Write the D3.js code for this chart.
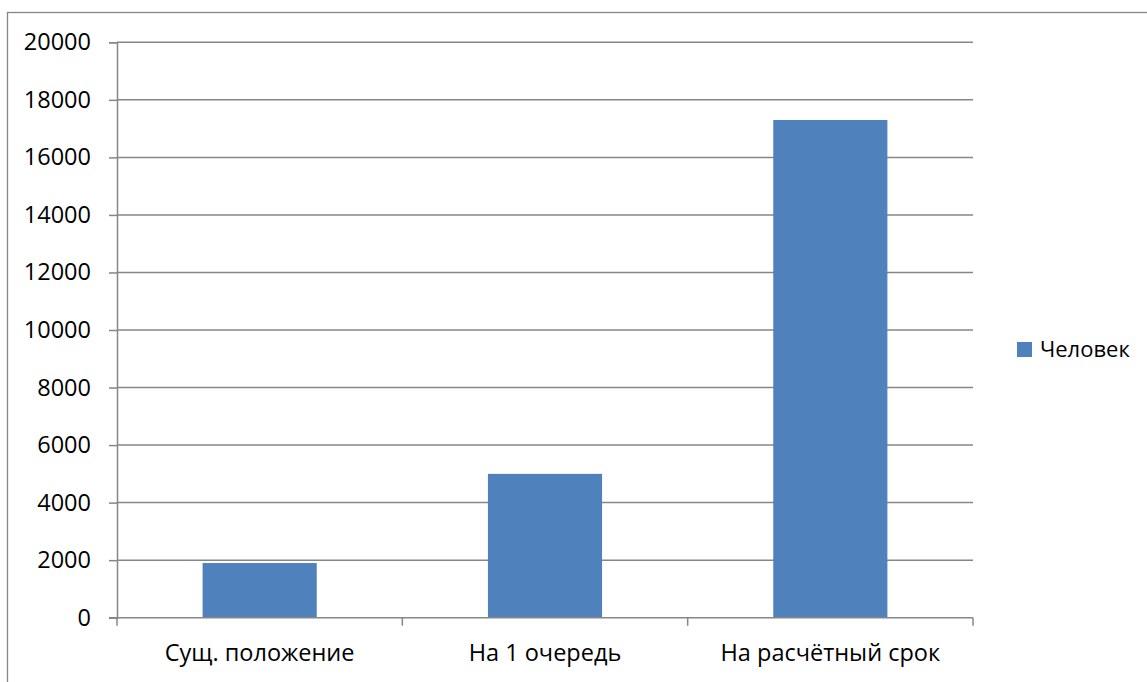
<!DOCTYPE html>
<html>
<head>
<meta charset="utf-8">
<script src="https://cdn.jsdelivr.net/npm/d3@7"></script>
<style>
  html, body { margin: 0; padding: 0; background: #fff; }
  svg { display: block; }
  text { font-family: "Open Sans", "Noto Sans", sans-serif; fill: #000; }
</style>
</head>
<body>
<svg id="chart" width="1147" height="682"></svg>
<script>
// Population figures, persons
const categories = ["Сущ. положение", "На 1 очередь", "На расчётный срок"];
const values = [1900, 5000, 17300];
const seriesName = "Человек";
const yTicks = [0, 2000, 4000, 6000, 8000, 10000, 12000, 14000, 16000, 18000, 20000];

const svg = d3.select("#chart");
const W = 1147, H = 682;
const plot = { left: 117, right: 973, top: 42.3, bottom: 617.7 };
const gridColor = "#868686";
const barColor = "#4F81BD";
const axisFont = 23.5;
const legendFont = 22;

// outer chart frame
svg.append("rect")
  .attr("x", 7.5).attr("y", 12.5)
  .attr("width", W + 10).attr("height", H + 10)
  .attr("fill", "none").attr("stroke", gridColor).attr("stroke-width", 1.3);

const x = d3.scaleBand()
  .domain(categories)
  .range([plot.left, plot.right])
  .paddingInner(0.6)
  .paddingOuter(0.3);

const xBound = d3.scaleLinear().domain([0, categories.length]).range([plot.left, plot.right]);

const y = d3.scaleLinear().domain([0, 20000]).range([plot.bottom, plot.top]);

// horizontal gridlines
svg.append("g")
  .selectAll("line")
  .data(yTicks.filter(d => d > 0))
  .join("line")
  .attr("x1", plot.left).attr("x2", plot.right)
  .attr("y1", d => y(d)).attr("y2", d => y(d))
  .attr("stroke", gridColor).attr("stroke-width", 1.5);

// y axis
const yAxis = svg.append("g")
  .attr("transform", `translate(${plot.left},0)`)
  .call(d3.axisLeft(y).tickValues(yTicks).tickSize(8).tickPadding(18).tickFormat(d3.format("d")));
yAxis.select(".domain").attr("stroke", gridColor).attr("stroke-width", 1.5);
yAxis.selectAll(".tick line").attr("stroke", gridColor).attr("stroke-width", 1.5);
yAxis.selectAll(".tick text")
  .attr("font-size", axisFont)
  .style("font-family", '"Open Sans", "Noto Sans", sans-serif')
  .attr("fill", "#000");

// bars
svg.append("g")
  .selectAll("rect")
  .data(values)
  .join("rect")
  .attr("x", (d, i) => x(categories[i]))
  .attr("width", x.bandwidth())
  .attr("y", d => y(d))
  .attr("height", d => y(0) - y(d))
  .attr("fill", barColor);

// x axis line and category boundary ticks
const xg = svg.append("g");
xg.append("line")
  .attr("x1", plot.left - 8).attr("x2", plot.right)
  .attr("y1", y(0)).attr("y2", y(0))
  .attr("stroke", gridColor).attr("stroke-width", 1.5);
xg.selectAll("line.bound")
  .data(d3.range(categories.length + 1))
  .join("line")
  .attr("class", "bound")
  .attr("x1", d => xBound(d)).attr("x2", d => xBound(d))
  .attr("y1", y(0)).attr("y2", y(0) + 8)
  .attr("stroke", gridColor).attr("stroke-width", 1.5);
xg.selectAll("text")
  .data(categories)
  .join("text")
  .attr("x", d => x(d) + x.bandwidth() / 2)
  .attr("y", 661)
  .attr("text-anchor", "middle")
  .attr("font-size", axisFont)
  .text(d => d);

// legend
const lg = svg.append("g").attr("transform", "translate(1017,342)");
lg.append("rect").attr("width", 15).attr("height", 15).attr("fill", barColor);
lg.append("text").attr("x", 23).attr("y", 15).attr("font-size", legendFont).text(seriesName);
</script>
</body>
</html>
